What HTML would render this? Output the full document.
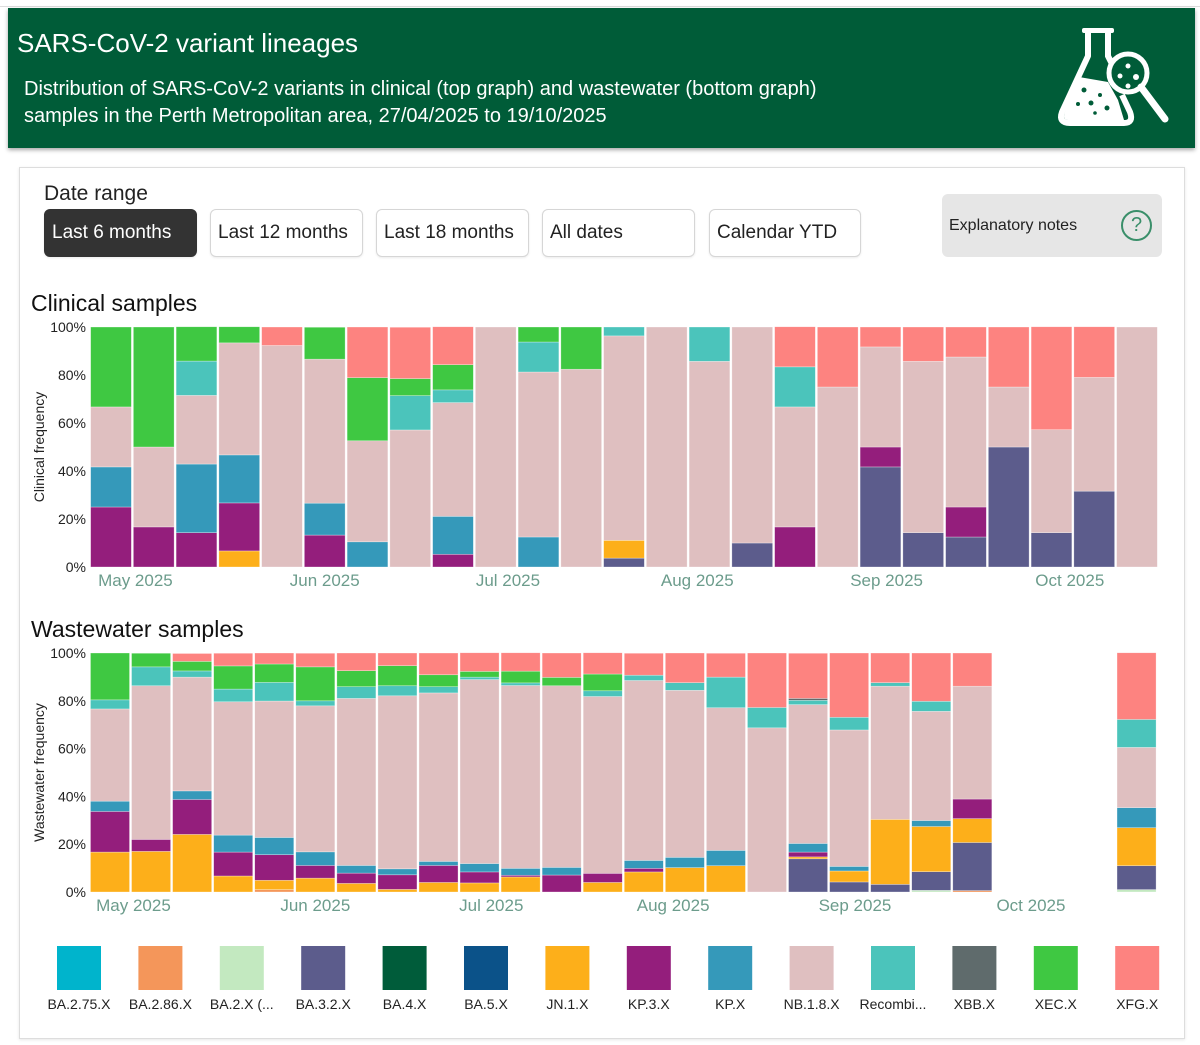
<!DOCTYPE html>
<html><head><meta charset="utf-8">
<style>
*{box-sizing:border-box;margin:0;padding:0}
body{width:1200px;height:1045px;background:#fff;font-family:"Liberation Sans",sans-serif;position:relative;overflow:hidden}
.abs{position:absolute}
.btn{position:absolute;top:209px;height:48px;border:1px solid #d6d6d6;border-radius:6px;background:#fff;font-size:19px;color:#222;padding:12px 0 0 7px;box-shadow:0 1px 2px rgba(0,0,0,0.08)}
</style></head><body>
<div class="abs" style="left:0;top:6px;width:1200px;height:1px;background:#ddd"></div>
<div class="abs" style="left:8px;top:8px;width:1187px;height:140px;background:#005c38;box-shadow:0 2px 4px rgba(0,0,0,0.35)">
  <div class="abs" style="left:9px;top:20px;color:#fff;font-size:26px">SARS-CoV-2 variant lineages</div>
  <div class="abs" style="left:16px;top:68px;color:#fff;font-size:20px;line-height:27px">Distribution of SARS-CoV-2 variants in clinical (top graph) and wastewater (bottom graph)<br>samples in the Perth Metropolitan area, 27/04/2025 to 19/10/2025</div>
  <svg class="abs" style="left:1044px;top:15px" width="125" height="110" viewBox="1052 23 125 110">
    <rect x="1082" y="28" width="32" height="5" rx="2" fill="#fff"/>
    <path d="M1088 33 L1088 56 L1062 112 Q1058 123 1070 123 L1124 123 Q1134 123 1130 112 L1122 95" fill="none" stroke="#fff" stroke-width="6" stroke-linejoin="round"/>
    <path d="M1108 33 L1108 56 L1112 64" fill="none" stroke="#fff" stroke-width="6"/>
    <path d="M1079 77 L1108 82 L1118 100 L1124 120 L1068 120 Q1062 120 1065 112 Z" fill="#fff"/>
    <circle cx="1128" cy="73" r="19" fill="#005c38" stroke="#fff" stroke-width="5"/>
    <line x1="1141" y1="87" x2="1165" y2="119" stroke="#fff" stroke-width="7" stroke-linecap="round"/>
    <circle cx="1128" cy="66" r="2.5" fill="#fff"/><circle cx="1120" cy="76" r="2.5" fill="#fff"/><circle cx="1136" cy="77" r="3" fill="#fff"/><circle cx="1128" cy="86" r="2.5" fill="#fff"/>
    <circle cx="1084" cy="90" r="2.5" fill="#005c38"/><circle cx="1100" cy="95" r="2" fill="#005c38"/><circle cx="1091" cy="103" r="2.5" fill="#005c38"/><circle cx="1078" cy="104" r="2" fill="#005c38"/><circle cx="1107" cy="108" r="2.5" fill="#005c38"/><circle cx="1095" cy="113" r="1.8" fill="#005c38"/>
  </svg>
</div>
<div class="abs" style="left:19px;top:167px;width:1166px;height:872px;border:1px solid #ddd;box-shadow:0 1px 3px rgba(0,0,0,0.1)"></div>
<div class="abs" style="left:44px;top:182px;font-size:21px;color:#222">Date range</div>
<div class="btn" style="left:44px;width:153px;background:#333;color:#fff;border-color:#333">Last 6 months</div>
<div class="btn" style="left:210px;width:153px">Last 12 months</div>
<div class="btn" style="left:376px;width:153px">Last 18 months</div>
<div class="btn" style="left:542px;width:153px">All dates</div>
<div class="btn" style="left:709px;width:152px">Calendar YTD</div>
<div class="abs" style="left:942px;top:194px;width:220px;height:63px;background:#e6e6e6;border-radius:6px">
  <div class="abs" style="left:7px;top:23px;font-size:16px;color:#222">Explanatory notes</div>
  <div class="abs" style="left:179px;top:16px;width:31px;height:31px;border:2px solid #3a8f6a;border-radius:50%;color:#3a8f6a;font-size:20px;text-align:center;line-height:27px">?</div>
</div>
<div class="abs" style="left:31px;top:290px;font-size:23px;color:#111">Clinical samples</div>
<div class="abs" style="left:31px;top:616px;font-size:23px;color:#111">Wastewater samples</div>
<svg class="abs" id="chart" style="left:0;top:0" width="1200" height="1045"></svg>
<script>
const variants=["BA.2.75.X","BA.2.86.X","BA.2.X (...","BA.3.2.X","BA.4.X","BA.5.X","JN.1.X","KP.3.X","KP.X","NB.1.8.X","Recombi...","XBB.X","XEC.X","XFG.X"];
const colors=["#00b4cc","#f4965a","#c3e9c0","#5c5c8c","#005c3a","#0b5289","#fdaf1a","#941e7c","#3599ba","#dfbfc0","#4bc4bb","#5f6b6c","#3fc842","#fd8380"];
const yTicks=[0,20,40,60,80,100];
const monthLabels=["May 2025","Jun 2025","Jul 2025","Aug 2025","Sep 2025","Oct 2025"];
const monthDays=[4,35,65,96,127,157]; // days after 27/04/2025
const clinicalBA32=[0,0,0,0,0,0,0,0,0,0,0,0,3.7,0,0,10,0,0,41.7,14.3,12.5,50,14.3,31.6,0];
const clinicalJN1=[0,0,0,6.7,0,0,0,0,0,0,0,0,7.4,0,0,0,0,0,0,0,0,0,0,0,0];
const clinicalKP3=[25,16.7,14.3,20,0,13.3,0,0,5.3,0,0,0,0,0,0,0,16.7,0,8.3,0,12.5,0,0,0,0];
const clinicalKPX=[16.7,0,28.6,20,0,13.3,10.5,0,15.8,0,12.5,0,0,0,0,0,0,0,0,0,0,0,0,0,0];
const clinicalNB18=[25,33.3,28.6,46.7,92.3,60,42.1,57.1,47.4,100,68.75,82.4,85.2,100,85.7,90,50,75,41.7,71.4,62.5,25,42.9,47.4,100];
const clinicalRec=[0,0,14.3,0,0,0,0,14.3,5.3,0,12.5,0,3.7,0,14.3,0,16.7,0,0,0,0,0,0,0,0];
const clinicalXEC=[33.3,50,14.3,6.7,0,13.3,26.3,7.1,10.5,0,6.25,17.6,0,0,0,0,0,0,0,0,0,0,0,0,0];
const clinicalXFG=[0,0,0,0,7.7,0,21.1,21.4,15.8,0,0,0,0,0,0,0,16.7,25,8.3,14.3,12.5,25,42.9,21.1,0];
const N=null;
const wwBA286=[0,0,0,0,1,0,0,0,0,0,0,0,0,0,0,0,0,0,0,0,0,0.6,N,N,N,0];
const wwBA2X=[0,0,0,0,0,0,0,0,0,0,0,0,0,0,0,0,0,0,0,0,0.7,0,N,N,N,1];
const wwBA32=[0,0,0,0,0,0,0,0,0,0,0,0,0,0,0,0,0,13.9,4.2,3.2,7.8,20.1,N,N,N,10];
const wwJN1=[16.7,17,24.1,6.7,3.9,5.8,3.6,1.1,4,3.8,6.3,0,4,8.4,10.2,11,0,0.8,4.6,27.2,18.9,10,N,N,N,15.9];
const wwKP3=[17,5,14.6,10,10.7,5.3,4.3,6.1,7.1,4.6,0.7,7.1,3.8,1.5,0,0,0,2,0,0,0,8.2,N,N,N,0];
const wwKPX=[4.3,0,3.6,7.1,7.2,5.7,3.2,2.5,1.7,3.5,2.9,3.2,0,3.3,4.3,6.4,0,3.6,1.9,0,2.5,0,N,N,N,8.4];
const wwNB18=[38.6,64.3,47.6,55.8,57.1,61.1,69.9,72.4,70.5,77,76.5,76,74,75.3,69.9,59.7,68.7,58.1,57.1,55.7,45.7,47.2,N,N,N,25.2];
const wwRec=[3.8,7.9,2.6,5.3,7.8,2.1,4.9,4.2,2.6,1,1.1,0,2.4,2.2,3.2,12.8,8.5,1.8,5.3,1.5,4.2,0,N,N,N,11.7];
const wwXBB=[0,0,0,0,0,0,0,0,0,0,0,0,0,0,0,0,0,0.8,0,0,0,0,N,N,N,0];
const wwXEC=[19.6,5.7,4,9.7,7.7,14.2,6.7,8.4,5,2.4,4.9,3.5,7,0,0,0,0,0,0,0,0,0,N,N,N,0];
const wwXFG=[0,0,3.3,5.3,4.6,5.7,7.4,5.3,9.1,7.8,7.7,10.2,8.9,9.2,12.4,10,22.8,18.9,26.9,12.4,20.2,13.9,N,N,N,27.9];

const svg=document.getElementById('chart');
const NS='http://www.w3.org/2000/svg';
function mk(tag,attrs,parent){const e=document.createElementNS(NS,tag);for(const k in attrs)e.setAttribute(k,attrs[k]);(parent||svg).appendChild(e);return e;}

function drawChart(cfg){
  const g=mk('g',{});
  
  
  const y=v=>cfg.y0-(v/100)*(cfg.y0-cfg.y1);
  const x=d=>cfg.x0+d*cfg.pxDay;
  const bw=7*cfg.pxDay;
  yTicks.forEach(t=>{
    const tx=mk('text',{x:86,y:y(t)+5,'text-anchor':'end','font-size':14,fill:'#222','font-family':'Liberation Sans, sans-serif'},g);
    tx.textContent=t+'%';
    
    
  });
  const yt=mk('text',{x:0,y:0,transform:`translate(44,${(cfg.y0+cfg.y1)/2}) rotate(-90)`,'text-anchor':'middle','font-size':14,fill:'#222','font-family':'Liberation Sans, sans-serif'},g);
  yt.textContent=cfg.yTitle;
  
  
  monthLabels.forEach((m,i)=>{
    const tx=mk('text',{x:x(monthDays[i]),y:cfg.y0+19,'text-anchor':'middle','font-size':17,fill:'#6c9c8c','font-family':'Liberation Sans, sans-serif'},g);
    tx.textContent=m;
    
    
  });
  const n=cfg.series[0].length;
  for(let i=0;i<n;i++){
    let acc=0;
    cfg.series.forEach((s,si)=>{
      const v=s[i];
      if(v===null||v<=0){return;}
      const cx=x(i*7);
      const r=mk('rect',{x:cx-bw/2+1,y:y(acc+v),width:bw-2,height:y(acc)-y(acc+v),fill:colors[cfg.colorIdx[si]],stroke:'#fff','stroke-opacity':0.5,'stroke-width':0.6},g);
      
      
      acc+=v;
    });
  }
}
drawChart({name:'clinical-chart',x0:111,pxDay:6.107,y0:567,y1:327,yTitle:'Clinical frequency',
  series:[clinicalBA32,clinicalJN1,clinicalKP3,clinicalKPX,clinicalNB18,clinicalRec,clinicalXEC,clinicalXFG],colorIdx:[3,6,7,8,9,10,12,13]});
drawChart({name:'wastewater-chart',x0:110,pxDay:5.866,y0:892,y1:653,yTitle:'Wastewater frequency',
  series:[wwBA286,wwBA2X,wwBA32,wwJN1,wwKP3,wwKPX,wwNB18,wwRec,wwXBB,wwXEC,wwXFG],colorIdx:[1,2,3,6,7,8,9,10,11,12,13]});

const lg=mk('g',{});


variants.forEach((v,i)=>{
  const lx=57+i*81.4;
  const r=mk('rect',{x:lx,y:946,width:44,height:44,fill:colors[i]},lg);
  
  
  const t=mk('text',{x:lx+22,y:1009,'text-anchor':'middle','font-size':14,fill:'#222','font-family':'Liberation Sans, sans-serif'},lg);
  t.textContent=v;
  
  
});
</script>
</body></html>
